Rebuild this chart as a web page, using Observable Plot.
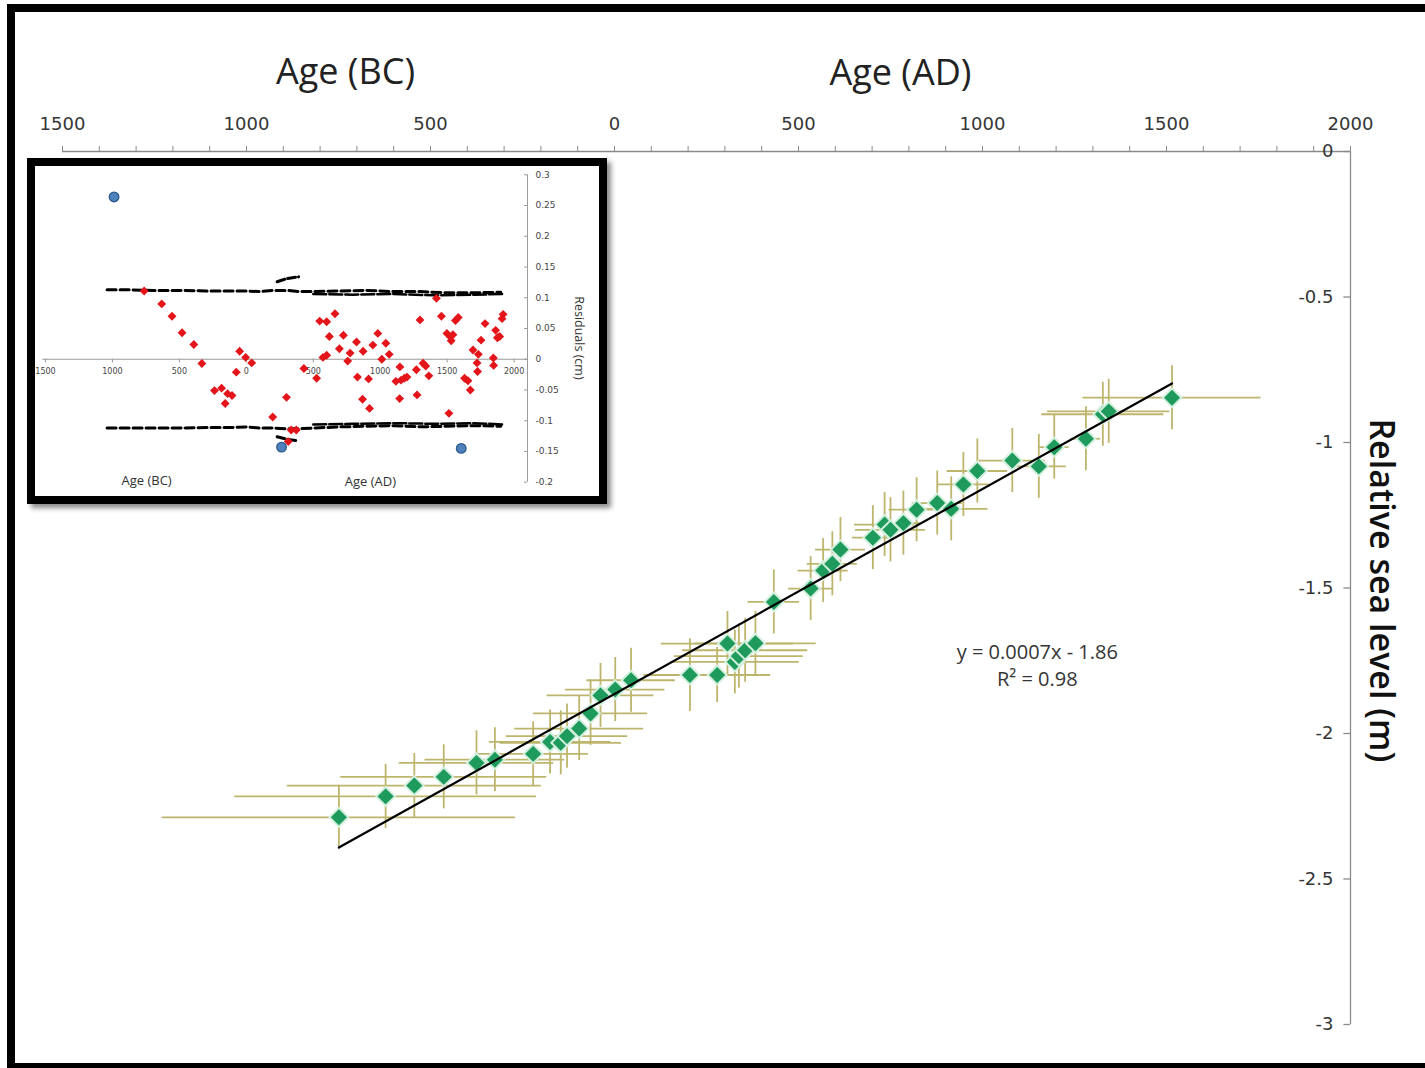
<!DOCTYPE html>
<html>
<head>
<meta charset="utf-8">
<script src="https://cdn.jsdelivr.net/npm/d3@7"></script>
<script src="https://cdn.jsdelivr.net/npm/@observablehq/plot@0.6"></script>
<style>
html,body{margin:0;padding:0;background:#fff;}
#page{position:relative;width:1425px;height:1068px;overflow:hidden;background:#fff;}
#frame{position:absolute;left:7px;top:4px;width:1500px;height:1067px;border:8px solid #000;border-right:none;box-sizing:border-box;}
#main{position:absolute;left:0;top:0;}
#insetBox{position:absolute;left:27px;top:158px;width:580px;height:346px;border:8px solid #000;box-sizing:border-box;background:#fff;box-shadow:4px 4px 5px rgba(0,0,0,0.45);}
#inset{position:absolute;left:0;top:0;}
</style>
</head>
<body>
<div id="page">
  <div id="frame"></div>
  <div id="main"></div>
  <div id="insetBox"><div id="inset"></div></div>
</div>
<script>
// ---------- main chart data ----------
const ageYear = [-749,-622,-544,-464,-375,-325,-221,-175,-146,-129,-96,-65,-38,2,45,205,279,307,327,338,355,383,433,533,567,592,614,702,734,750,785,821,877,915,948,986,1081,1153,1195,1281,1327,1343,1515];
const seaLevel = [-2.288,-2.216,-2.179,-2.149,-2.101,-2.090,-2.070,-2.029,-2.032,-2.009,-1.983,-1.931,-1.869,-1.849,-1.817,-1.799,-1.799,-1.691,-1.754,-1.734,-1.714,-1.690,-1.548,-1.502,-1.440,-1.417,-1.368,-1.327,-1.282,-1.300,-1.277,-1.231,-1.208,-1.228,-1.144,-1.098,-1.062,-1.082,-1.016,-0.987,-0.903,-0.893,-0.846];
const ageErr = [480,410,345,280,210,190,150,165,165,165,175,155,145,135,120,125,145,180,175,175,170,165,70,60,68,68,68,55,82,95,46,75,68,100,70,82,90,75,40,40,166,166,242];
const levelErr = [0.11,0.11,0.11,0.11,0.11,0.11,0.11,0.11,0.11,0.11,0.11,0.11,0.11,0.11,0.11,0.125,0.095,0.11,0.11,0.11,0.11,0.11,0.11,0.11,0.11,0.11,0.11,0.11,0.11,0.11,0.11,0.11,0.11,0.11,0.11,0.11,0.11,0.11,0.11,0.11,0.11,0.11,0.11];
const fitYear = [-749, 1515];
const fitLevel = [-2.392, -0.797];
const topTicks = d3.range(-1500, 2001, 100);
const levelTicks = [0,-0.5,-1,-1.5,-2,-2.5,-3];

// ---------- inset (residuals) data ----------
const residYear = [-763,-632,-555,-480,-392,-332,-50,-5,40,-75,-238,-185,-140,-107,-158,300,197,335,373,313,430,525,548,572,
  600,600,620,662,695,725,757,775,823,830,872,868,913,920,945,982,1012,1042,1067,1117,1147,1145,1155,1180,1200,1270,1275,1297,1320,1340,1363,1420,1457,1498,1525,1530,1543,1513,1562,1583,1630,1655,1673,1693,1723,1733,1727,1753,1783,1845,1847,1862,1875,1892,1918,1910];
const residValue = [0.111,0.090,0.070,0.043,0.024,-0.007,0.013,0.003,-0.006,-0.021,-0.051,-0.047,-0.056,-0.059,-0.072,-0.062,-0.094,-0.115,-0.115,-0.134,-0.015,-0.031,0.062,0.003,
  0.061,0.0065,0.037,0.074,0.017,0.039,-0.003,0.010,0.028,-0.029,0.013,-0.065,-0.032,-0.080,0.023,0.042,0.000,0.026,0.008,-0.036,-0.0125,-0.064,-0.034,-0.031,-0.029,-0.017,-0.058,0.064,-0.0065,-0.011,-0.027,0.099,0.070,0.042,0.036,0.030,0.040,-0.088,0.063,0.068,-0.031,-0.035,-0.050,0.015,-0.006,0.008,-0.020,0.031,0.058,0.002,-0.010,0.047,0.035,0.037,0.073,0.066];
const outlierYear = [-988, 263, 1605];
const outlierValue = [0.264, -0.143, -0.145];
const bandYear = [-1040,-900,-700,-500,-300,-100,0,100,200,300,400,500,700,900,1100,1300,1500,1700,1900];
const bandUpper = [0.113,0.113,0.112,0.112,0.111,0.111,0.111,0.110,0.112,0.112,0.110,0.110,0.111,0.112,0.110,0.110,0.108,0.108,0.109];
const bandLower = [-0.112,-0.112,-0.112,-0.112,-0.111,-0.111,-0.110,-0.112,-0.112,-0.113,-0.113,-0.112,-0.110,-0.109,-0.108,-0.110,-0.109,-0.108,-0.109];
const band2Year = [500,800,1100,1400,1700,1910];
const band2Upper = [0.106,0.105,0.106,0.104,0.105,0.106];
const band2Lower = [-0.106,-0.105,-0.104,-0.105,-0.104,-0.106];
const bumpYear = [230, 300, 390];
const bumpUpper = [0.126, 0.131, 0.134];
const bumpLower = [-0.126, -0.130, -0.133];
const insetXTicks = [-1500,-1000,-500,0,500,1000,1500,2000];
const insetYTicks = [0.3,0.25,0.2,0.15,0.1,0.05,0,-0.05,-0.1,-0.15,-0.2];

// ---------- build tables ----------
const points = ageYear.map((y,i)=>({year:y, level:seaLevel[i], xe:ageErr[i], ye:levelErr[i]}));
const fit = fitYear.map((x,i)=>({x, y:fitLevel[i]}));
const resid = residYear.map((x,i)=>({x, y:residValue[i]}));
const outliers = outlierYear.map((x,i)=>({x, y:outlierValue[i]}));
const bandU = bandYear.map((x,i)=>({x, y:bandUpper[i]}));
const bandL = bandYear.map((x,i)=>({x, y:bandLower[i]}));
const band2U = band2Year.map((x,i)=>({x, y:band2Upper[i]}));
const band2L = band2Year.map((x,i)=>({x, y:band2Lower[i]}));
const bumpU = bumpYear.map((x,i)=>({x, y:bumpUpper[i]}));
const bumpL = bumpYear.map((x,i)=>({x, y:bumpLower[i]}));

const axisGrey = "#8a8a8a";
const textDark = "#353535";

const main = Plot.plot({
  width:1425, height:1068,
  marginLeft:62, marginRight:75, marginTop:151, marginBottom:44,
  x:{domain:[-1500,2000]},
  y:{domain:[-3,0], axis:null},
  style:{background:"transparent", overflow:"visible", fontFamily:"DejaVu Sans"},
  marks:[
    Plot.ruleY([0], {stroke:axisGrey, strokeWidth:1.3}),
    Plot.axisX(topTicks, {anchor:"top", tickSize:6, tickPadding:16, label:null,
      tickFormat:d => d % 500 === 0 ? String(Math.abs(d)) : "",
      stroke:axisGrey, fill:textDark, fontSize:18, fontFamily:"DejaVu Sans"}),
    Plot.ruleX([2000], {stroke:axisGrey, strokeWidth:1.3}),
    Plot.ruleY(levelTicks, {y:d=>d, x1:1982, x2:2000, stroke:axisGrey, strokeWidth:1.3}),
    Plot.text(levelTicks, {x:2000, y:d=>d, dx:-17, textAnchor:"end", text:d=>String(d),
      fontSize:18, fontFamily:"DejaVu Sans", fill:textDark}),
    Plot.ruleY(points, {y:"level", x1:d=>d.year-d.xe, x2:d=>d.year+d.xe, stroke:"#bdb56c", strokeWidth:1.8}),
    Plot.ruleX(points, {x:"year", y1:d=>d.level-d.ye, y2:d=>d.level+d.ye, stroke:"#bdb56c", strokeWidth:1.8}),
    Plot.dot(points, {x:"year", y:"level", symbol:"diamond2", r:8.5, fill:"#1e9b5c", stroke:"#d3efdd", strokeWidth:2}),
    Plot.line(fit, {x:"x", y:"y", stroke:"#000", strokeWidth:2.2}),
    Plot.text(["Age (BC)"], {x:-731, y:0.2715, text:d=>d, fontSize:36, fontFamily:"Open Sans", fill:"#222", lineAnchor:"middle"}),
    Plot.text(["Age (AD)"], {x:777, y:0.268, text:d=>d, fontSize:36, fontFamily:"Open Sans", fill:"#222", lineAnchor:"middle"}),
    Plot.text(["y = 0.0007x - 1.86"], {x:1149, y:-1.721, text:d=>d, fontSize:20, fontFamily:"Open Sans", fill:textDark, lineAnchor:"middle"}),
    Plot.text(["R² = 0.98"], {x:1149, y:-1.814, text:d=>d, fontSize:20, fontFamily:"Open Sans", fill:textDark, lineAnchor:"middle"}),
    Plot.text(["Relative sea level (m)"], {x:2082, y:-1.508, text:d=>d, rotate:90, fontSize:34, fontWeight:600, fontFamily:"Open Sans", fill:"#111", lineAnchor:"middle"})
  ]
});
document.getElementById("main").appendChild(main);

const fmt = d => String(+d.toFixed(2));
const inset = Plot.plot({
  width:564, height:330,
  marginLeft:10, marginRight:72, marginTop:8.3, marginBottom:14.3,
  x:{domain:[-1500,2100], axis:null},
  y:{domain:[-0.2,0.3], axis:null},
  style:{background:"transparent", overflow:"visible", fontFamily:"DejaVu Sans"},
  marks:[
    Plot.ruleY([0], {x1:-1520, x2:2100, stroke:"#9a9a9a", strokeWidth:1}),
    Plot.ruleX(insetXTicks, {x:d=>d, y1:0, y2:-0.006, stroke:"#9a9a9a"}),
    Plot.text(insetXTicks, {x:d=>d, y:0, dy:12, text:d=>String(Math.abs(d)), fontSize:8, fill:"#444", lineAnchor:"middle"}),
    Plot.ruleX([2100], {y1:-0.2, y2:0.3, stroke:"#9a9a9a", strokeWidth:1}),
    Plot.ruleY(insetYTicks, {y:d=>d, x1:2078, x2:2100, stroke:"#9a9a9a"}),
    Plot.text(insetYTicks, {x:2100, y:d=>d, dx:8, textAnchor:"start", text:fmt, fontSize:9, fill:"#444", lineAnchor:"middle"}),
    Plot.line(bandU, {x:"x", y:"y", stroke:"#000", strokeWidth:3, strokeDasharray:"9 4"}),
    Plot.line(bandL, {x:"x", y:"y", stroke:"#000", strokeWidth:3, strokeDasharray:"9 4"}),
    Plot.line(band2U, {x:"x", y:"y", stroke:"#000", strokeWidth:2.5, strokeDasharray:"13 3"}),
    Plot.line(band2L, {x:"x", y:"y", stroke:"#000", strokeWidth:2.5, strokeDasharray:"13 3"}),
    Plot.line(bumpU, {x:"x", y:"y", stroke:"#000", strokeWidth:3, strokeDasharray:"8 3"}),
    Plot.line(bumpL, {x:"x", y:"y", stroke:"#000", strokeWidth:3, strokeDasharray:"8 3"}),
    Plot.dot(resid, {x:"x", y:"y", symbol:"diamond2", r:4, fill:"#e3151a"}),
    Plot.dot(outliers, {x:"x", y:"y", r:4.8, fill:"#4f81bd", stroke:"#2b5a8c", strokeWidth:1.3}),
    Plot.text(["Age (BC)"], {x:-745, y:-0.198, text:d=>d, fontSize:13, fontFamily:"Open Sans", fill:"#333", lineAnchor:"middle"}),
    Plot.text(["Age (AD)"], {x:927, y:-0.200, text:d=>d, fontSize:13, fontFamily:"Open Sans", fill:"#333", lineAnchor:"middle"}),
    Plot.text(["Residuals (cm)"], {x:2481, y:0.0347, text:d=>d, rotate:90, fontSize:12.5, fontFamily:"Open Sans", fill:"#333", lineAnchor:"middle"})
  ]
});
document.getElementById("inset").appendChild(inset);
</script>
</body>
</html>
